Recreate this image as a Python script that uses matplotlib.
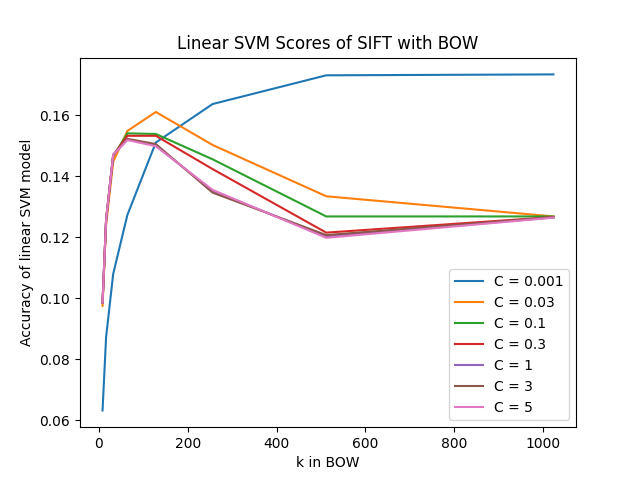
import matplotlib
matplotlib.use("Agg")
import matplotlib.pyplot as plt

# k values in the bag of words
ks = [8, 16, 32, 64, 128, 256, 512, 1024]
c_labels = ["C = 0.001", "C = 0.03", "C = 0.1", "C = 0.3", "C = 1", "C = 3", "C = 5"]

scores_c0001 = [0.0633, 0.0873, 0.1080, 0.1273, 0.1510, 0.1636, 0.1730, 0.1733]
scores_c003 = [0.0975, 0.1240, 0.1447, 0.1548, 0.1610, 0.1502, 0.1334, 0.1268]
scores_c01 = [0.0985, 0.1255, 0.1465, 0.1540, 0.1538, 0.1455, 0.1268, 0.1268]
scores_c03 = [0.0985, 0.1257, 0.1468, 0.1532, 0.1532, 0.1423, 0.1215, 0.1266]
scores_c1 = [0.0986, 0.1257, 0.1470, 0.1520, 0.1500, 0.1352, 0.1202, 0.1265]
scores_c3 = [0.0986, 0.1257, 0.1470, 0.1522, 0.1505, 0.1346, 0.1207, 0.1265]
scores_c5 = [0.0986, 0.1257, 0.1470, 0.1518, 0.1498, 0.1355, 0.1198, 0.1264]

all_scores = [scores_c0001, scores_c003, scores_c01, scores_c03,
              scores_c1, scores_c3, scores_c5]

fig, ax = plt.subplots(figsize=(6.4, 4.8), dpi=100)
for scores, label in zip(all_scores, c_labels):
    ax.plot(ks, scores, label=label)

ax.set_title("Linear SVM Scores of SIFT with BOW")
ax.set_xlabel("k in BOW")
ax.set_ylabel("Accuracy of linear SVM model")
ax.legend(loc="lower right")
fig.savefig("out.png")
